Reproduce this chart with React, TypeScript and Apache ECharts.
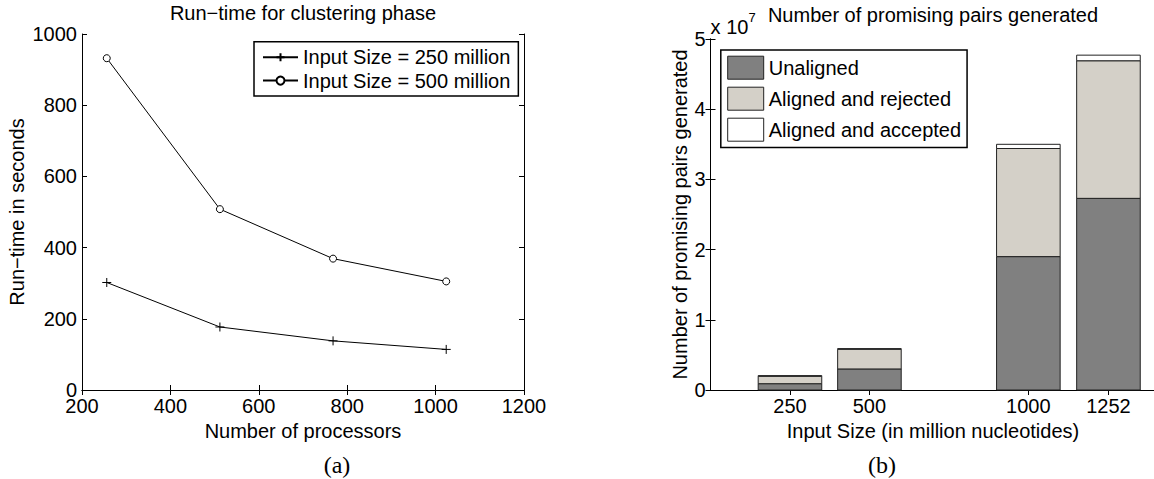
import React, { useEffect, useRef } from "react";
import * as echarts from "echarts";

// Panel (a): run-time for clustering phase
const processors = [256, 512, 768, 1024];
const runtime250 = [302, 177, 138, 114];
const runtime500 = [932, 508, 369, 305];
const lineNames = ["Input Size = 250 million", "Input Size = 500 million"];

// Panel (b): number of promising pairs (x 10^7)
const inputSizes = [250, 500, 1000, 1252];
const unaligned = [0.09, 0.3, 1.9, 2.73];
const alignedRejected = [0.105, 0.28, 1.54, 1.96];
const alignedAccepted = [0.01, 0.01, 0.06, 0.08];
const barNames = ["Unaligned", "Aligned and rejected", "Aligned and accepted"];
const barColors = ["#808080", "#d4d0c8", "#ffffff"];
const barWidthUnits = 200;

const FONT = "'Liberation Sans', Arial, Helvetica, sans-serif";
const FS = 20;

const zip = (xs: number[], ys: number[]) => xs.map((x, i) => [x, ys[i]]);

// build stacked [x, base, top] rows for each layer
const layers = [unaligned, alignedRejected, alignedAccepted];
const stackedRows = layers.map((layer, li) =>
  inputSizes.map((x, i) => {
    let base = 0;
    for (let k = 0; k < li; k++) base += layers[k][i];
    return [x, base, base + layer[i]];
  })
);

export default function App() {
  const ref = useRef<HTMLDivElement>(null);
  useEffect(() => {
    if (!ref.current) return;
    const chart = echarts.init(ref.current, null, { renderer: "svg" });
    const axisLine = { show: true, lineStyle: { color: "#000", width: 1 } };
    const tick = { show: true, inside: true, length: 5, lineStyle: { color: "#000", width: 1 } };
    const label = { color: "#000", fontSize: FS, fontFamily: FONT, formatter: (v: number) => String(v) };
    const nameStyle = { color: "#000", fontSize: FS, fontFamily: FONT };
    const G0 = { left: 82, top: 34, width: 442, height: 356 };
    const G1 = { left: 710.5, top: 39, width: 445, height: 351 };

    const barSeries = barNames.map((name, li) => ({
      name,
      type: "custom",
      xAxisIndex: 2,
      yAxisIndex: 2,
      data: stackedRows[li],
      encode: { x: 0, y: [1, 2] },
      itemStyle: { color: barColors[li], borderColor: "#222", borderWidth: 1 },
      silent: true,
      renderItem: (params: any, api: any) => {
        const x = api.value(0);
        const lo = api.value(1);
        const hi = api.value(2);
        const p0 = api.coord([x, lo]);
        const p1 = api.coord([x, hi]);
        const w = api.size([barWidthUnits, 0])[0];
        return {
          type: "rect",
          shape: { x: p0[0] - w / 2, y: p1[1], width: w, height: p0[1] - p1[1] },
          style: { fill: barColors[li], stroke: "#222", lineWidth: 1 },
        };
      },
    }));

    const option: any = {
      animation: false,
      backgroundColor: "#fff",
      textStyle: { fontFamily: FONT },
      title: [
        {
          text: "Run\u2212time for clustering phase",
          left: G0.left + G0.width / 2,
          top: 2.5,
          padding: 0,
          textAlign: "center",
          textStyle: { ...nameStyle, fontWeight: "normal" },
        },
        {
          text: "Number of promising pairs generated",
          left: G1.left + G1.width / 2,
          top: 5,
          padding: 0,
          textAlign: "center",
          textStyle: { ...nameStyle, fontWeight: "normal" },
        },
      ],
      grid: [
        { ...G0, containLabel: false },
        { ...G1, containLabel: false },
      ],
      legend: [
        {
          data: lineNames,
          orient: "vertical",
          left: 254,
          top: 41.7,
          itemWidth: 35,
          itemHeight: 10,
          itemGap: 3.4,
          padding: [5.5, 8, 5.5, 8],
          backgroundColor: "#fff",
          borderColor: "#000",
          borderWidth: 1.5,
          borderRadius: 0,
          textStyle: { color: "#000", fontSize: FS, fontFamily: FONT, lineHeight: 20 },
          selectedMode: false,
        },
        {
          data: barNames,
          orient: "vertical",
          left: 720.8,
          top: 50,
          itemWidth: 36,
          itemHeight: 23,
          itemGap: 7,
          padding: [5.7, 6, 5.7, 6.4],
          backgroundColor: "#fff",
          borderColor: "#000",
          borderWidth: 1.5,
          borderRadius: 0,
          icon: "rect",
          itemStyle: { borderColor: "#222", borderWidth: 1 },
          textStyle: { color: "#000", fontSize: FS, fontFamily: FONT, lineHeight: 23 },
          selectedMode: false,
        },
      ],
      xAxis: [
        {
          gridIndex: 0,
          type: "value",
          min: 200,
          max: 1200,
          interval: 200,
          position: "bottom",
          axisLine,
          axisTick: tick,
          axisLabel: { ...label, margin: 6 },
          splitLine: { show: false },
          name: "Number of processors",
          nameLocation: "middle",
          nameGap: 28,
          nameTextStyle: nameStyle,
        },
        {
          gridIndex: 0,
          type: "value",
          min: 200,
          max: 1200,
          interval: 200,
          position: "top",
          axisLine,
          axisTick: tick,
          axisLabel: { show: false },
          splitLine: { show: false },
        },
        {
          gridIndex: 1,
          type: "value",
          min: 0,
          max: 1400,
          position: "bottom",
          axisLine,
          axisTick: { ...tick, customValues: inputSizes },
          axisLabel: { ...label, margin: 6, customValues: inputSizes },
          splitLine: { show: false },
          name: "Input Size (in million nucleotides)",
          nameLocation: "middle",
          nameGap: 28,
          nameTextStyle: nameStyle,
        },
        {
          gridIndex: 1,
          type: "value",
          min: 0,
          max: 1400,
          position: "top",
          axisLine,
          axisTick: { ...tick, customValues: inputSizes },
          axisLabel: { show: false },
          splitLine: { show: false },
        },
      ],
      yAxis: [
        {
          gridIndex: 0,
          type: "value",
          min: 0,
          max: 1000,
          interval: 200,
          position: "left",
          axisLine,
          axisTick: tick,
          axisLabel: { ...label, margin: 5 },
          splitLine: { show: false },
          name: "Run\u2212time in seconds",
          nameLocation: "middle",
          nameRotate: 90,
          nameGap: 55,
          nameTextStyle: nameStyle,
        },
        {
          gridIndex: 0,
          type: "value",
          min: 0,
          max: 1000,
          interval: 200,
          position: "right",
          axisLine,
          axisTick: tick,
          axisLabel: { show: false },
          splitLine: { show: false },
        },
        {
          gridIndex: 1,
          type: "value",
          min: 0,
          max: 5,
          interval: 1,
          position: "left",
          axisLine,
          axisTick: tick,
          axisLabel: { ...label, margin: 5 },
          splitLine: { show: false },
          name: "Number of promising pairs generated",
          nameLocation: "middle",
          nameRotate: 90,
          nameGap: 21,
          nameTextStyle: nameStyle,
        },
        {
          gridIndex: 1,
          type: "value",
          min: 0,
          max: 5,
          interval: 1,
          position: "right",
          axisLine,
          axisTick: tick,
          axisLabel: { show: false },
          splitLine: { show: false },
        },
      ],
      series: [
        {
          name: lineNames[0],
          type: "line",
          xAxisIndex: 0,
          yAxisIndex: 0,
          data: zip(processors, runtime250),
          symbol: "path://M5,0L5,10M0,5L10,5",
          symbolSize: 9,
          lineStyle: { color: "#000", width: 1 },
          itemStyle: { color: "none", borderColor: "#000", borderWidth: 1 },
          silent: true,
        },
        {
          name: lineNames[1],
          type: "line",
          xAxisIndex: 0,
          yAxisIndex: 0,
          data: zip(processors, runtime500),
          symbol: "circle",
          symbolSize: 7,
          lineStyle: { color: "#000", width: 1 },
          itemStyle: { color: "#fff", borderColor: "#000", borderWidth: 1 },
          silent: true,
        },
        ...barSeries,
      ],
      graphic: [
        {
          type: "text",
          x: 710.6,
          y: 27,
          style: { text: "x 10", fontSize: FS, fontFamily: FONT, fill: "#000", verticalAlign: "middle" },
        },
        {
          type: "text",
          x: 748.4,
          y: 17,
          style: { text: "7", fontSize: 13, fontFamily: FONT, fill: "#000", verticalAlign: "middle" },
        },
        {
          type: "text",
          x: 337,
          y: 465,
          style: { text: "(a)", fontSize: 24, fontFamily: "'Liberation Serif', 'DejaVu Serif', serif", fill: "#000", align: "center", verticalAlign: "middle" },
        },
        {
          type: "text",
          x: 882,
          y: 465,
          style: { text: "(b)", fontSize: 24, fontFamily: "'Liberation Serif', 'DejaVu Serif', serif", fill: "#000", align: "center", verticalAlign: "middle" },
        },
      ],
    };
    chart.setOption(option);
    return () => chart.dispose();
  }, []);

  return (
    <div style={{ position: "fixed", left: 0, top: 0, width: 1154, height: 479, overflow: "hidden", background: "#fff" }}>
      <div ref={ref} style={{ width: 1162, height: 479 }} />
    </div>
  );
}
